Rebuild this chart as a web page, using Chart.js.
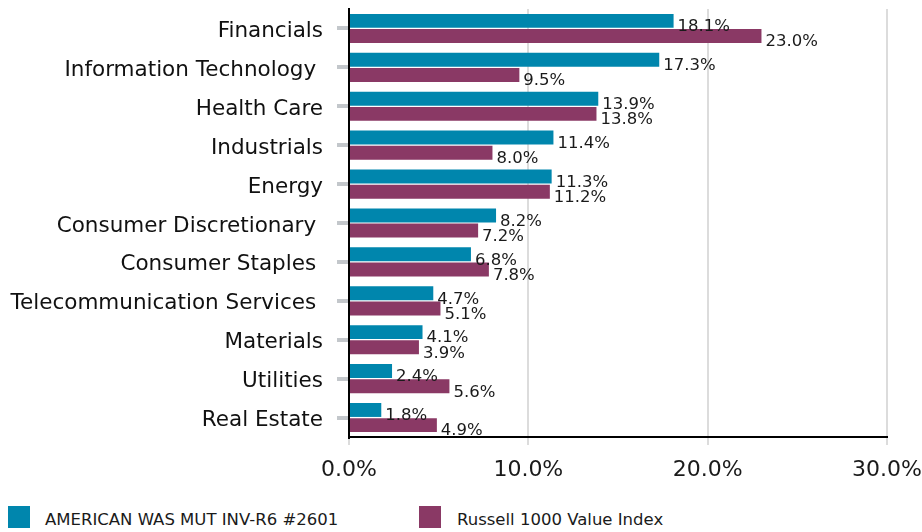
<!DOCTYPE html>
<html>
<head>
<meta charset="utf-8">
<script src="https://cdn.jsdelivr.net/npm/chart.js@4.4.0/dist/chart.umd.min.js"></script>
<style>
	html, body { margin: 0; padding: 0; background: #fff; }
	#wrap { position: relative; width: 922px; height: 532px; }
	#chart { position: absolute; left: 0; top: 0; }
	.legend-item { position: absolute; top: 506px; font: 16.5px "DejaVu Sans", Verdana, sans-serif; color: #1a1a1a; }
	.legend-item span.box { position: absolute; left: 0; top: 0; width: 22px; height: 22px; }
	.legend-item span.txt { position: absolute; top: 4px; white-space: nowrap; }
</style>
</head>
<body>
<div id="wrap">
	<canvas id="chart" width="922" height="500"></canvas>
	<div class="legend-item" style="left:8px"><span class="box" style="background:#0086ad"></span><span class="txt" style="left:37px">AMERICAN WAS MUT INV-R6 #2601</span></div>
	<div class="legend-item" style="left:419px"><span class="box" style="background:#8a3965"></span><span class="txt" style="left:38px">Russell 1000 Value Index</span></div>
</div>
<script>
// sector names (trailing spaces as in the source)
var sectors = ["Financials", "Information Technology ", "Health Care", "Industrials", "Energy",
	"Consumer Discretionary ", "Consumer Staples ", "Telecommunication Services ", "Materials",
	"Utilities", "Real Estate"];
var fund_values = [18.1, 17.3, 13.9, 11.4, 11.3, 8.2, 6.8, 4.7, 4.1, 2.4, 1.8];
var index_values = [23.0, 9.5, 13.8, 8.0, 11.2, 7.2, 7.8, 5.1, 3.9, 5.6, 4.9];
var x_ticks = [0, 10, 20, 30];

var FONT = '"DejaVu Sans", Verdana, sans-serif';

// draws "12.3%" next to each bar end
var bar_labels = {
	id: 'bar_labels',
	afterDatasetsDraw: function (chart) {
		var ctx = chart.ctx;
		ctx.save();
		ctx.font = '16.5px ' + FONT;
		ctx.fillStyle = '#1a1a1a';
		ctx.textAlign = 'left';
		ctx.textBaseline = 'middle';
		chart.data.datasets.forEach(function (ds, i) {
			chart.getDatasetMeta(i).data.forEach(function (bar, j) {
				ctx.fillText(ds.data[j].toFixed(1) + '%', bar.x + 4, bar.y + 6);
			});
		});
		ctx.restore();
	}
};

new Chart(document.getElementById('chart'), {
	type: 'bar',
	data: {
		labels: sectors,
		datasets: [
			{ label: 'AMERICAN WAS MUT INV-R6 #2601', data: fund_values, backgroundColor: '#0086ad' },
			{ label: 'Russell 1000 Value Index', data: index_values, backgroundColor: '#8a3965' }
		]
	},
	options: {
		indexAxis: 'y',
		responsive: false,
		animation: false,
		layout: { padding: { top: 9, right: 35, left: 0, bottom: 0 } },
		categoryPercentage: 0.78,
		barPercentage: 0.92,
		plugins: {
			legend: { display: false },
			tooltip: { enabled: false }
		},
		scales: {
			x: {
				min: 0,
				max: 30,
				afterBuildTicks: function (scale) {
					scale.ticks = x_ticks.map(function (v) { return { value: v }; });
				},
				afterFit: function (scale) {
					scale.height = 63;
					scale.paddingLeft = 0;
					scale.paddingRight = 0;
				},
				grid: { color: '#dcdcdc', lineWidth: 2, tickLength: 8, tickColor: '#dcdcdc' },
				border: { color: '#000', width: 2 },
				ticks: {
					color: '#1a1a1a',
					padding: 12,
					maxRotation: 0,
					font: { family: FONT, size: 22 },
					callback: function (v) { return Number(v).toFixed(1) + '%'; }
				}
			},
			y: {
				afterFit: function (scale) {
					scale.width = 349;
					scale.paddingTop = 0;
					scale.paddingBottom = 0;
				},
				grid: { drawOnChartArea: false, offset: false, tickLength: 12, tickColor: '#c3c7cb', lineWidth: 4 },
				border: { color: '#000', width: 2 },
				ticks: {
					color: '#111',
					padding: 14,
					labelOffset: 3,
					autoSkip: false,
					font: { family: FONT, size: 21.5 }
				}
			}
		}
	},
	plugins: [bar_labels]
});
</script>
</body>
</html>
